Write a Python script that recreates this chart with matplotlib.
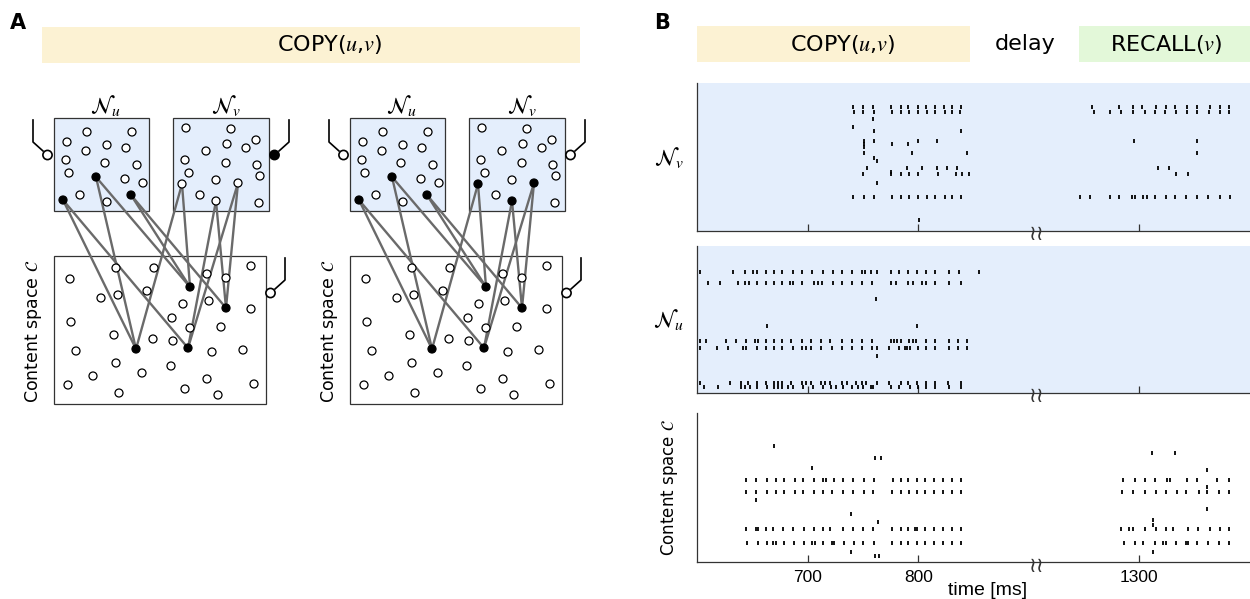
import matplotlib
matplotlib.use('Agg')
import matplotlib.pyplot as plt
from matplotlib.patches import Rectangle, Circle

plt.rcParams['font.family'] = ['DejaVu Sans']
plt.rcParams['mathtext.fontset'] = 'stix'

# ---------------- panel A: schematic network (pixel coords of the left copy) ----------------
nu_open = [(87, 132), (132, 132), (67, 142), (107, 145), (86, 151), (126, 148), (66, 160),
           (105, 163), (137, 165), (69, 173), (125, 179), (143, 183), (80, 195), (107, 202)]
nu_active = [(63, 200), (96, 177), (131, 195)]
nv_open = [(186, 128), (231, 129), (256, 140), (227, 144), (246, 148), (206, 151), (185, 160),
           (226, 163), (257, 165), (189, 173), (260, 176), (216, 180), (200, 195), (259, 203)]
nv_target = [(182, 184), (216, 201), (238, 183)]
c_open = [(70, 279), (116, 268), (154, 268), (207, 274), (226, 278), (251, 266), (101, 298),
          (118, 295), (147, 291), (183, 304), (209, 301), (251, 309), (71, 322), (172, 318),
          (190, 328), (221, 327), (114, 335), (153, 339), (173, 341), (76, 351), (212, 352),
          (243, 350), (116, 363), (142, 373), (171, 366), (93, 376), (68, 385), (119, 393),
          (185, 389), (207, 379), (218, 395), (254, 384)]
c_active = [(190, 287), (226, 308), (136, 349), (188, 348)]
u_edges = [(0, 2), (0, 3), (1, 2), (1, 0), (2, 0), (2, 1)]
v_edges = [(0, 2), (0, 0), (1, 3), (1, 1), (2, 3), (2, 1)]
net_shift = 296

# ---------------- panel B: spike rasters {neuron index: spike times [ms]} ----------------
nv_spikes = {
    124: [741, 750, 759, 775, 784, 791, 800, 807, 815, 823, 831, 839,
          1257, 1282, 1294, 1302, 1315, 1324, 1332, 1343, 1352, 1364, 1373, 1381],
    119: [742, 750, 760, 776, 784, 792, 800, 808, 815, 824, 831, 838,
          1259, 1273, 1283, 1294, 1305, 1314, 1323, 1333, 1343, 1352, 1363, 1373, 1381],
    112: [759],
    104: [741],
    100: [760, 839],
    90: [751, 760, 800, 817, 1295, 1352],
    87: [751, 776, 791],
    84: [751],
    78: [751, 794, 844, 1352],
    73: [760],
    70: [763],
    63: [754, 790, 803, 817, 826, 835, 1317, 1327],
    59: [775],
    57: [750, 775, 784, 792, 800, 818, 834, 840, 846, 1333, 1344],
    48: [763],
    34: [741, 751, 760, 776, 784, 792, 800, 808, 815, 824, 831, 839,
         1246, 1255, 1273, 1282, 1293, 1296, 1303, 1307, 1314, 1324, 1332, 1342, 1352,
         1362, 1373, 1382],
    11: [801],
}
nu_spikes = {
    121: [603, 633, 643, 651, 654, 662, 670, 677, 687, 695, 704, 714, 723, 731, 740, 749, 752,
          757, 763, 775, 783, 791, 799, 807, 815, 828, 837, 855],
    110: [599, 610, 621, 637, 643, 647, 654, 662, 670, 677, 684, 687, 695, 706, 709, 713, 723,
          731, 740, 749, 758, 775, 780, 791, 795, 803, 807, 815, 828, 839],
    94: [762],
    67: [663, 799],
    52: [603, 608, 626, 635, 644, 652, 655, 662, 670, 677, 685, 695, 703, 712, 720, 731, 740,
         749, 758, 775, 778, 781, 784, 792, 795, 798, 807, 815, 828, 836, 844],
    45: [600, 603, 618, 628, 642, 644, 654, 662, 670, 677, 687, 695, 699, 703, 712, 722, 731,
         740, 749, 758, 763, 774, 783, 788, 790, 793, 800, 807, 815, 828, 836, 844],
    37: [763],
    10: [603, 630, 640, 646, 654, 662, 670, 673, 677, 685, 695, 699, 703, 712, 716, 720, 731,
         736, 744, 749, 753, 763, 774, 784, 791, 799, 807, 815, 827, 839],
    6: [600, 606, 619, 640, 643, 648, 654, 663, 670, 673, 677, 682, 687, 696, 705, 714, 721,
        726, 732, 740, 746, 750, 757, 759, 775, 783, 793, 800, 807, 815, 828, 839],
}
c_spikes = {
    116: [670],
    109: [1311, 1332],
    104: [761, 766],
    94: [704],
    92: [1361],
    82: [644, 653, 663, 671, 679, 689, 696, 706, 714, 717, 724, 732, 741, 751, 760, 777, 784,
         791, 799, 806, 814, 822, 831, 839,
         1285, 1296, 1305, 1314, 1325, 1328, 1343, 1352, 1370, 1381],
    75: [1361],
    70: [644, 653, 663, 671, 679, 689, 696, 706, 714, 722, 732, 741, 751, 759, 776, 784, 792,
         799, 806, 814, 822, 831, 839,
         1284, 1294, 1305, 1315, 1324, 1334, 1342, 1354, 1361, 1372, 1381],
    62: [653],
    53: [1361],
    48: [739],
    42: [1312],
    40: [764],
    37: [1312],
    33: [644, 653, 655, 662, 669, 678, 687, 697, 706, 714, 720, 732, 741, 750, 759, 776, 784,
         791, 797, 799, 806, 814, 822, 831, 839,
         1283, 1291, 1294, 1305, 1315, 1324, 1330, 1344, 1353, 1364, 1373, 1381],
    19: [645, 655, 663, 669, 671, 679, 688, 697, 704, 707, 714, 722, 724, 733, 742, 750, 760,
         776, 784, 791, 799, 806, 814, 822, 831, 839,
         1286, 1296, 1303, 1314, 1321, 1324, 1333, 1342, 1344, 1352, 1362, 1372, 1381],
    10: [739, 1312],
    6: [761, 765],
}
xticks_ms = [700, 800, 1300]
delay_cut = 300      # ms removed from the time axis between 900 and 1200

C_YELLOW = '#fcf2d3'
C_GREEN = '#e3f8d9'
C_BLUE = '#e4eefc'
C_LINE = '#6a6a6a'


def to_axis(t):
    return [x - delay_cut if x > 1000 else x for x in t]


fig = plt.figure(figsize=(12.5, 5.99), dpi=100)
ax0 = fig.add_axes([0, 0, 1, 1])
ax0.set_xlim(0, 1250)
ax0.set_ylim(599, 0)
ax0.axis('off')

# panel letters and phase headers
ax0.text(18, 23, 'A', fontsize=15, fontweight='bold', ha='center', va='center')
ax0.text(662, 23, 'B', fontsize=15, fontweight='bold', ha='center', va='center')
ax0.add_patch(Rectangle((42, 27), 538, 36, fc=C_YELLOW, ec='none'))
ax0.text(330, 45, r'COPY($u$,$v$)', fontsize=16, ha='center', va='center')
ax0.add_patch(Rectangle((697, 26), 273, 36, fc=C_YELLOW, ec='none'))
ax0.text(843, 44, r'COPY($u$,$v$)', fontsize=16, ha='center', va='center')
ax0.text(1025, 44, 'delay', fontsize=16, ha='center', va='center')
ax0.add_patch(Rectangle((1079, 26), 171, 36, fc=C_GREEN, ec='none'))
ax0.text(1166, 44, r'RECALL($v$)', fontsize=16, ha='center', va='center')


def electrode(ax, x, y_top, side, filled):
    # wire from above bending towards the recording circle
    d = 1 if side == 'left' else -1
    ax.plot([x, x, x + d * 10], [y_top, y_top + 22, y_top + 31], color='k', lw=1.2, zorder=3)
    ax.add_patch(Circle((x + d * 14.5, y_top + 35), 4.6, fc='k' if filled else 'white',
                        ec='k', lw=1.2, zorder=4))


def draw_net(ax, dx, v_on):
    for (x, y, w, h, fc) in [(54, 118, 95, 93, C_BLUE), (173, 118, 96, 93, C_BLUE),
                             (54, 256, 212, 148, 'white')]:
        ax.add_patch(Rectangle((x + dx, y), w, h, fc=fc, ec='#333333', lw=0.9, zorder=1))
    for src, edges in [(nu_active, u_edges), (nv_target, v_edges)]:
        for i, j in edges:
            ax.plot([src[i][0] + dx, c_active[j][0] + dx], [src[i][1], c_active[j][1]],
                    color=C_LINE, lw=1.7, zorder=2, solid_capstyle='round')
    for pts, filled in [(nu_open, False), (nv_open, False), (c_open, False),
                        (nu_active, True), (c_active, True), (nv_target, v_on)]:
        for (x, y) in pts:
            ax.add_patch(Circle((x + dx, y), 4.0, fc='k' if filled else 'white',
                                ec='k', lw=0.9, zorder=3))
    ax.text(106 + dx, 106, r'$\mathcal{N}_u$', fontsize=16, ha='center', va='center')
    ax.text(226 + dx, 106, r'$\mathcal{N}_v$', fontsize=16, ha='center', va='center')
    ax.text(33 + dx, 331, r'Content space $\mathcal{C}$', fontsize=12.5, rotation=90,
            ha='center', va='center')
    electrode(ax, 33 + dx, 120, 'left', False)
    electrode(ax, 289 + dx, 120, 'right', not v_on)
    electrode(ax, 285 + dx, 258, 'right', False)


draw_net(ax0, 0, False)
draw_net(ax0, net_shift, True)

# ---------------- panel B rasters ----------------
W, H = 1250, 599
boxes = [(83, 231, nv_spikes, C_BLUE, r'$\mathcal{N}_v$'),
         (246, 393, nu_spikes, C_BLUE, r'$\mathcal{N}_u$'),
         (413, 562, c_spikes, 'white', r'Content space $\mathcal{C}$')]
for k, (top, bot, spikes, bg, lab) in enumerate(boxes):
    ax = fig.add_axes([697 / W, 1 - bot / H, 553 / W, (bot - top) / H])
    ax.set_facecolor(bg)
    rows = list(spikes.keys())
    ax.eventplot([to_axis(spikes[r]) for r in rows], lineoffsets=rows, linelengths=3.6,
                 linewidths=1.3, colors='k')
    ax.set_xlim(600, 1100)
    ax.set_ylim(0, bot - top)
    ax.set_yticks([])
    ax.set_xticks(to_axis(xticks_ms))
    ax.tick_params(axis='x', direction='in', length=5, width=0.9, color='#333333')
    for s in ['top', 'right']:
        ax.spines[s].set_visible(False)
    for s in ['left', 'bottom']:
        ax.spines[s].set_color('#333333')
        ax.spines[s].set_linewidth(0.9)
    ax.text(907, -3.5, '\u2240\u2240', fontsize=15, ha='center', va='center', color='#333333',
            clip_on=False)
    if k < 2:
        ax.set_xticklabels([])
        ax.text(-28 / 553, 0.5, lab, transform=ax.transAxes, fontsize=16,
                ha='center', va='center')
    else:
        ax.set_xticklabels([str(t) for t in xticks_ms], family='Liberation Sans', fontsize=12.5)
        ax.tick_params(axis='x', pad=6)
        ax.set_xlabel('time [ms]', family='Liberation Sans', fontsize=14)
        ax.xaxis.label.set_va('center')
        ax.xaxis.set_label_coords(0.526, -0.19)
        ax.text(-28 / 553, 0.5, lab, transform=ax.transAxes, fontsize=12, rotation=90,
                ha='center', va='center')

fig.savefig('out.png', dpi=100)
